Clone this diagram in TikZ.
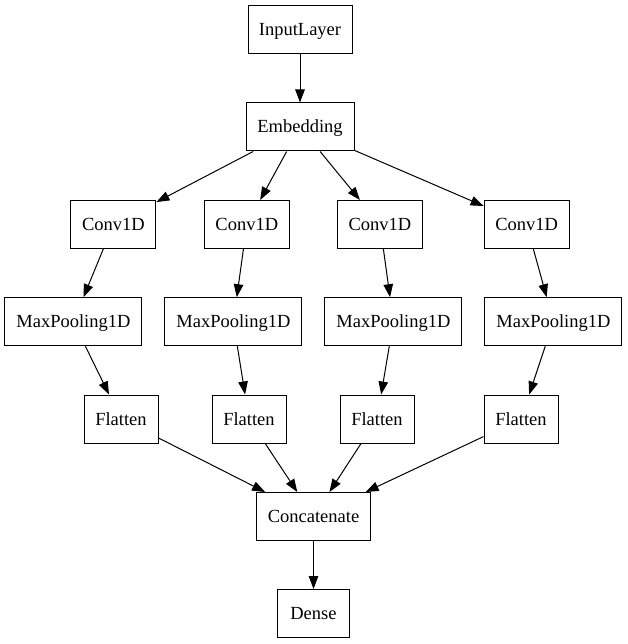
\documentclass[tikz,border=0pt]{standalone}
\usepackage{fontspec}
\setmainfont{Liberation Serif}
\usetikzlibrary{arrows.meta}
\begin{document}
\begin{tikzpicture}[x=1pt,y=-1pt,
  layer/.style={draw, line width=1pt, minimum height=48pt, inner sep=0pt,
    text height=16pt, text depth=4pt,
    font=\fontsize{18.5pt}{22pt}\selectfont},
  edge/.style={line width=1pt, -{Triangle[length=13pt,width=9.5pt]}}]
\useasboundingbox (0,0) rectangle (627,644);
\node[layer, minimum width=104pt] (in) at (300,29.7) {InputLayer};
\node[layer, minimum width=108pt] (emb) at (300,127) {Embedding};
\node[layer, minimum width=85pt] (c1) at (113.4,224.5) {Conv1D};
\node[layer, minimum width=85pt] (c2) at (246.8,224.5) {Conv1D};
\node[layer, minimum width=85pt] (c3) at (380,224.5) {Conv1D};
\node[layer, minimum width=85pt] (c4) at (526.6,224.5) {Conv1D};
\node[layer, minimum width=137pt] (m1) at (73.4,321.7) {MaxPooling1D};
\node[layer, minimum width=137pt] (m2) at (233.4,321.7) {MaxPooling1D};
\node[layer, minimum width=137pt] (m3) at (393.4,321.7) {MaxPooling1D};
\node[layer, minimum width=137pt] (m4) at (553.4,321.7) {MaxPooling1D};
\node[layer, minimum width=74pt] (f1) at (121,419) {Flatten};
\node[layer, minimum width=74pt] (f2) at (249,419) {Flatten};
\node[layer, minimum width=74pt] (f3) at (377,419) {Flatten};
\node[layer, minimum width=74pt] (f4) at (521,419) {Flatten};
\node[layer, minimum width=114pt] (cat) at (313.5,516.5) {Concatenate};
\node[layer, minimum width=72pt] (dense) at (313.5,613.5) {Dense};
\draw[edge] (in) -- (emb);
\foreach \i in {1,2,3,4} {
  \draw[edge] (emb) -- (c\i);
  \draw[edge] (c\i) -- (m\i);
  \draw[edge] (m\i) -- (f\i);
  \draw[edge] (f\i) -- (cat);
}
\draw[edge] (cat) -- (dense);
\end{tikzpicture}
\end{document}
